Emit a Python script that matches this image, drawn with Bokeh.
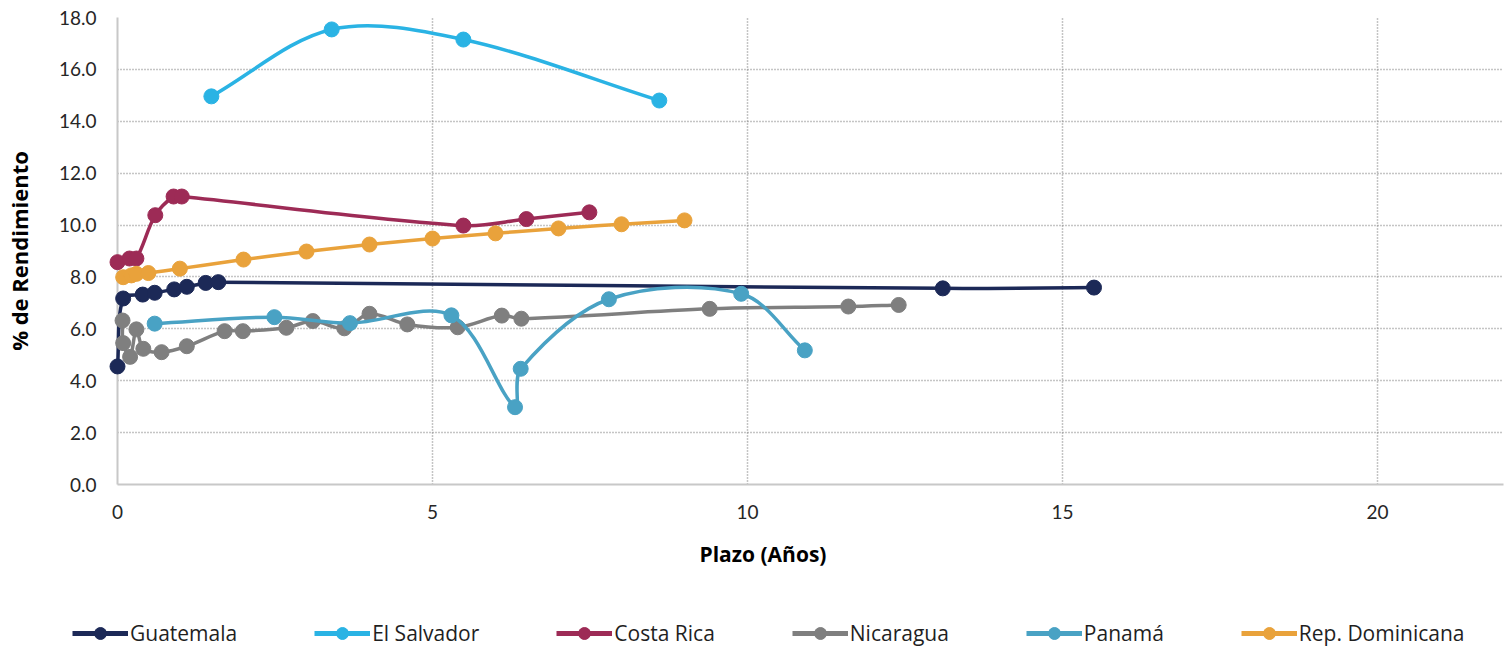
import numpy as np
from bokeh.plotting import figure
from bokeh.layouts import column
from bokeh.models import (ColumnDataSource, FixedTicker, PrintfTickFormatter, Legend,
                          LegendItem, Title, Range1d)
from bokeh.embed import file_html
from bokeh.resources import INLINE

# ---------------- data ----------------
series_names = ["Guatemala", "El Salvador", "Costa Rica", "Nicaragua", "Panamá", "Rep. Dominicana"]

guatemala_x = [0.0, 0.09, 0.40, 0.59, 0.90, 1.10, 1.40, 1.60, 13.10, 15.50]
guatemala_y = [4.55, 7.17, 7.32, 7.39, 7.52, 7.62, 7.77, 7.80, 7.56, 7.59]

el_salvador_x = [1.49, 3.40, 5.49, 8.60]
el_salvador_y = [14.96, 17.54, 17.15, 14.80]

costa_rica_x = [0.0, 0.19, 0.30, 0.60, 0.89, 1.02, 5.49, 6.49, 7.49]
costa_rica_y = [8.57, 8.71, 8.71, 10.38, 11.10, 11.10, 9.98, 10.23, 10.49]

nicaragua_x = [0.08, 0.09, 0.20, 0.30, 0.41, 0.70, 1.10, 1.70, 1.99, 2.68,
               3.10, 3.60, 4.00, 4.60, 5.40, 6.10, 6.41, 9.40, 11.60, 12.40]
nicaragua_y = [6.32, 5.45, 4.92, 5.98, 5.23, 5.10, 5.33, 5.91, 5.91, 6.04,
               6.30, 6.02, 6.58, 6.17, 6.06, 6.51, 6.39, 6.77, 6.86, 6.92]

panama_x = [0.59, 2.49, 3.69, 5.30, 6.31, 6.40, 7.80, 9.90, 10.91]
panama_y = [6.20, 6.45, 6.22, 6.52, 2.98, 4.46, 7.14, 7.35, 5.17]

rep_dom_x = [0.09, 0.22, 0.30, 0.49, 0.99, 2.0, 3.0, 4.0, 5.0, 6.0, 7.0, 8.0, 9.0]
rep_dom_y = [7.99, 8.06, 8.12, 8.15, 8.32, 8.67, 8.98, 9.25, 9.48, 9.68, 9.87, 10.03, 10.18]

x_ticks = [0, 5, 10, 15, 20]
y_ticks = [0, 2, 4, 6, 8, 10, 12, 14, 16, 18]

colors = ["#1c2957", "#2ab3e4", "#9d2b56", "#7f7f7f", "#49a2c4", "#e9a23b"]

series = [
    (guatemala_x, guatemala_y),
    (el_salvador_x, el_salvador_y),
    (costa_rica_x, costa_rica_y),
    (nicaragua_x, nicaragua_y),
    (panama_x, panama_y),
    (rep_dom_x, rep_dom_y),
]

X_MAX, Y_MAX = 22, 18
W, H, H_LEG = 1512, 600, 48
B_LEFT, B_RIGHT, B_TOP, B_BOTTOM = 116, 9, 17, 116
KX = (W - B_LEFT - B_RIGHT) / X_MAX      # px per x unit (used only for smoothing shape)
KY = (H - B_TOP - B_BOTTOM) / Y_MAX      # px per y unit


def smooth_segments(xs, ys):
    """Bezier control points for a smoothed line through the points (chord-scaled Catmull-Rom)."""
    x = np.asarray(xs, dtype=float)
    y = np.asarray(ys, dtype=float)
    xp = np.concatenate([[x[0]], x, [x[-1]]])
    yp = np.concatenate([[y[0]], y, [y[-1]]])
    d = np.hypot(np.diff(x) * KX, np.diff(y) * KY)          # segment lengths (n-1)
    dp = np.concatenate([[0.0], d, [0.0]])
    denom = dp[:-1] + dp[1:]
    denom[denom == 0] = 1.0
    tx = (xp[2:] - xp[:-2]) / denom
    ty = (yp[2:] - yp[:-2]) / denom
    return dict(
        x0=x[:-1], y0=y[:-1], x1=x[1:], y1=y[1:],
        cx0=x[:-1] + tx[:-1] * d / 3.0,
        cy0=y[:-1] + ty[:-1] * d / 3.0,
        cx1=x[1:] - tx[1:] * d / 3.0,
        cy1=y[1:] - ty[1:] * d / 3.0,
    )


p = figure(width=W, height=H, x_range=Range1d(0, X_MAX), y_range=Range1d(0, Y_MAX),
           output_backend="svg", toolbar_location=None,
           min_border_left=B_LEFT, min_border_right=B_RIGHT,
           min_border_top=B_TOP, min_border_bottom=B_BOTTOM)
p.outline_line_color = None
p.background_fill_color = "white"

# axes
p.xaxis.ticker = FixedTicker(ticks=x_ticks)
p.xaxis.formatter = PrintfTickFormatter(format="%d")
p.yaxis.ticker = FixedTicker(ticks=y_ticks)
p.yaxis.formatter = PrintfTickFormatter(format="%.1f")
for ax in (p.xaxis[0], p.yaxis[0]):
    ax.axis_line_color = "#c8c8c8"
    ax.axis_line_width = 2
    ax.major_tick_line_color = None
    ax.minor_tick_line_color = None
    ax.major_tick_out = 0
    ax.major_tick_in = 0
    ax.major_label_text_font = "Lato"
    ax.major_label_text_font_size = "19px"
    ax.major_label_text_color = "#262626"
p.xaxis.major_label_standoff = 20
p.yaxis.major_label_standoff = 21

p.yaxis.axis_label = "% de Rendimiento"
p.yaxis.axis_label_text_font = "Open Sans"
p.yaxis.axis_label_text_font_style = "bold"
p.yaxis.axis_label_text_font_size = "22px"
p.yaxis.axis_label_text_color = "#000000"
p.yaxis.axis_label_standoff = 22

# grid
p.xgrid.ticker = FixedTicker(ticks=x_ticks[1:])
p.ygrid.ticker = FixedTicker(ticks=y_ticks[1:])
for g in (p.xgrid[0], p.ygrid[0]):
    g.grid_line_color = "#8a8a8a"
    g.grid_line_width = 1.5
    g.grid_line_dash = "1 2"

# series
for name, (xs, ys), c in zip(series_names, series, colors):
    src = ColumnDataSource(smooth_segments(xs, ys))
    p.bezier(x0="x0", y0="y0", x1="x1", y1="y1", cx0="cx0", cy0="cy0",
             cx1="cx1", cy1="cy1", source=src, line_color=c, line_width=3.5,
             line_cap="round", level="overlay")
    p.scatter(x=xs, y=ys, size=15, marker="circle", fill_color=c, line_color=c,
              level="overlay")

# x axis title, offset to the left like the reference
xtitle = Title(text="Plazo (Años)", align="left", offset=582, vertical_align="middle",
               standoff=34, text_font="Open Sans", text_font_style="bold",
               text_font_size="21px", text_color="#000000")
p.add_layout(xtitle, "below")

# ---------------- legend strip (separate small figure) ----------------
p2 = figure(width=W, height=H_LEG, x_range=Range1d(0, 1), y_range=Range1d(0, 1),
            output_backend="svg", toolbar_location=None,
            x_axis_location=None, y_axis_location=None,
            min_border_left=0, min_border_right=0, min_border_top=0, min_border_bottom=0)
p2.outline_line_color = None
p2.xgrid.visible = False
p2.ygrid.visible = False
try:
    p2.frame_align = False
    leg_x = 72
except Exception:
    leg_x = 72 - B_LEFT

items = []
for name, (xs, ys), c in zip(series_names, series, colors):
    # same series data; this strip's ranges keep the marks out of view, only the key shows
    lr = p2.line(x=xs, y=ys, line_color=c, line_width=5)
    sr = p2.scatter(x=xs, y=ys, marker="circle", size=12, fill_color=c, line_color=c)
    items.append(LegendItem(label=name, renderers=[lr, sr]))

legend = Legend(items=items, orientation="horizontal", location=(leg_x, 0),
                glyph_width=56, glyph_height=30, label_standoff=2, spacing=77,
                padding=0, margin=0, border_line_color=None, background_fill_alpha=0,
                label_text_font="Open Sans", label_text_font_size="21px",
                label_text_color="#1f1f1f")
p2.add_layout(legend, "center")

layout = column(p, p2, spacing=0)
open("out.html", "w").write(file_html(layout, INLINE))
